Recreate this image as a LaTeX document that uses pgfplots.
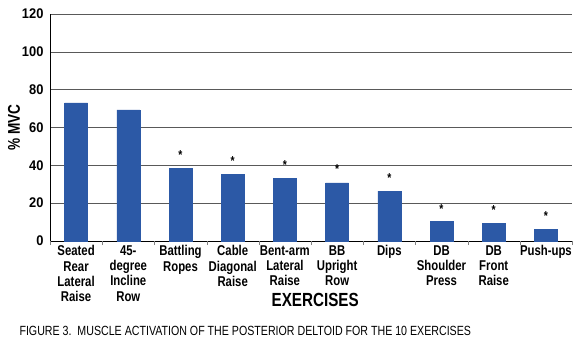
\documentclass[border=0pt]{standalone}
\usepackage{fontspec}
\setmainfont{Liberation Sans}[FakeStretch=0.8]
\newfontfamily\numfont{Liberation Sans}[FakeStretch=0.92]
\usepackage{pgfplots}
\pgfplotsset{compat=1.18}
\definecolor{barblue}{RGB}{44,89,166}
\begin{document}
\begin{tikzpicture}[x=1pt,y=1pt]
\path[use as bounding box] (0,0) rectangle (585,345);
\begin{axis}[
  at={(50pt,104pt)}, anchor=south west,
  scale only axis, width=522pt, height=227pt,
  xmin=-0.5, xmax=9.5, ymin=0, ymax=120,
  ytick={0,20,...,120},
  ymajorgrids, grid style={black!65, line width=0.6pt},
  axis x line*=bottom, axis y line*=left,
  axis line style={line width=0.6pt},
  major tick length=0pt,
  xtick={0,...,9},
  xticklabels={Seated\\Rear\\Lateral\\Raise, 45-\\degree\\Incline\\Row, Battling\\Ropes, Cable\\Diagonal\\Raise, Bent-arm\\Lateral\\Raise, BB\\Upright\\Row, Dips, DB\\Shoulder\\Press, DB\\Front\\Raise, Push-ups},
  x tick label style={align=center, anchor=north, font=\bfseries\fontsize{14.2}{15.3}\selectfont, yshift=-1pt},
  extra x ticks={-0.5,0.5,...,9.5}, extra x tick labels={},
  extra x tick style={major tick length=4pt, tick align=outside, grid=none},
  /pgf/number format/assume math mode=true,
  y tick label style={font=\numfont\bfseries\fontsize{14}{14}\selectfont, xshift=-3pt},
  ylabel={\% MVC},
  ylabel style={at={(axis description cs:-0.069,0.5)}, anchor=center, font=\bfseries\fontsize{17}{17}\selectfont},
  xlabel={EXERCISES},
  xlabel style={at={(axis description cs:0.508,0)}, yshift=-59pt, anchor=center, font=\bfseries\fontsize{19}{19}\selectfont},
]
\addplot[ybar, bar width=23pt, fill=barblue, draw=barblue] coordinates {
  (0,73.0) (1,69.3) (2,38.4) (3,35.4) (4,33.2) (5,30.7) (6,26.4) (7,10.4) (8,9.4) (9,6.2)};
\addplot[draw=none, mark=none, forget plot, point meta=y,
  nodes near coords={\bfseries *},
  nodes near coords style={anchor=center, yshift=-3pt, font=\fontsize{13}{13}\selectfont}]
  coordinates {(2,47.1) (3,43.9) (4,41.8) (5,39.7) (6,34.9) (7,18.5) (8,18.0) (9,14.8)};
\end{axis}
\node[anchor=west, font=\fontsize{13.3}{13.3}\selectfont] at (16,14) {FIGURE 3.\ \ MUSCLE ACTIVATION OF THE POSTERIOR DELTOID FOR THE 10 EXERCISES};
\end{tikzpicture}
\end{document}
